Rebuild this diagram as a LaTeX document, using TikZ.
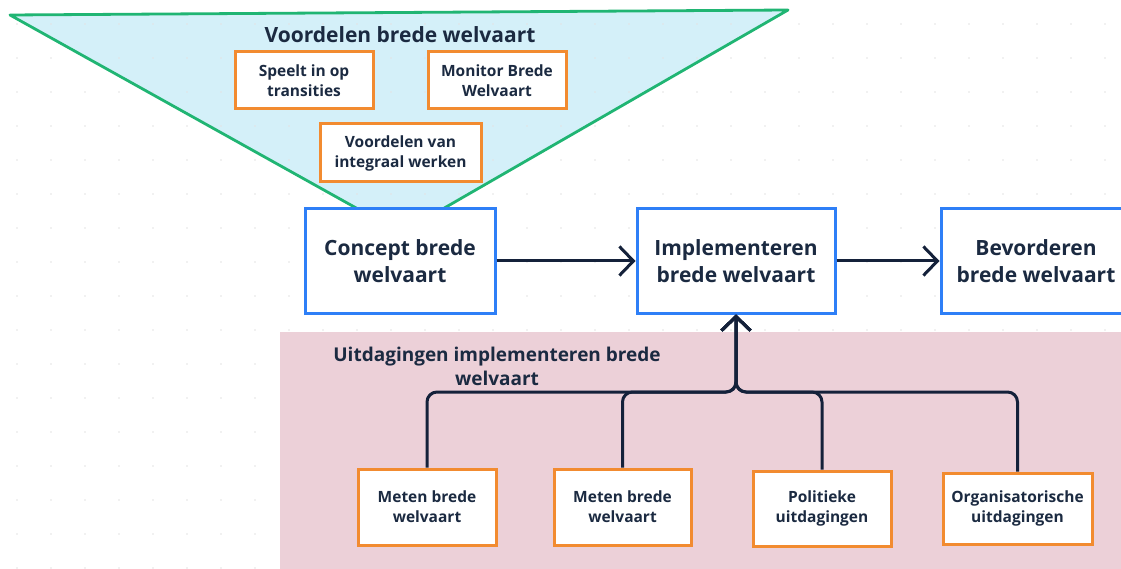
\documentclass[tikz,border=0pt]{standalone}
\usepackage{fontspec}
\setmainfont{Open Sans}
\usetikzlibrary{arrows.meta}
\definecolor{navy}{HTML}{1B2A41}
\definecolor{linecol}{HTML}{14213A}
\definecolor{bblue}{HTML}{2E7FF7}
\definecolor{borange}{HTML}{F28B30}
\definecolor{tgreen}{HTML}{20B573}
\definecolor{tfill}{HTML}{D4F0F9}
\definecolor{pinkbg}{HTML}{ECD0D8}
\tikzset{
  bigbox/.style={draw=bblue, line width=3pt, fill=white, minimum height=104pt,
    align=center, text=navy, inner sep=0pt,
    font=\bfseries\fontsize{21}{27}\selectfont},
  smallbox/.style={draw=borange, line width=3pt, fill=white,
    align=center, text=navy, inner sep=0pt,
    font=\bfseries\fontsize{15.5}{20}\selectfont},
  titletext/.style={text=navy, align=center, font=\bfseries\fontsize{19}{24}\selectfont},
  conn/.style={draw=linecol, line width=3pt,
    -{Straight Barb[length=14pt, width=29pt, line width=3pt]}},
  treeconn/.style={conn, rounded corners=10pt},
  griddot/.style={fill=gray!22}
}
\begin{document}
\begin{tikzpicture}[x=1pt, y=-1pt]
\useasboundingbox (0,0) rectangle (1121,569);
\fill[white] (0,0) rectangle (1121,569);

% triangle
\fill[tfill] (10,15) -- (788,10) -- (401,233) -- cycle;

% dot grid
\foreach \gx in {17,51,...,1121} {
  \foreach \gy in {24,58,...,569} {
    \fill[griddot] (\gx,\gy) circle (0.9pt);
  }
}

\draw[tgreen, line width=2.8pt, line join=round] (10,15) -- (788,10) -- (401,233) -- cycle;

% pink region
\fill[pinkbg] (280,332) rectangle (1125,572);

% top group
\node[titletext, font=\bfseries\fontsize{21}{24}\selectfont] (vtitle) at (400,35) {Voordelen brede welvaart};
\node[smallbox, minimum width=138pt, minimum height=57pt] (speelt) at (304,80.5) {Speelt in op\\transities};
\node[smallbox, minimum width=138pt, minimum height=57pt] (monitor) at (497,80.5) {Monitor Brede\\Welvaart};
\node[smallbox, minimum width=161pt, minimum height=58pt] (integraal) at (400.5,153) {Voordelen van\\integraal werken};

% main flow
\node[bigbox, minimum width=190pt] (concept) at (400,261) {Concept brede\\welvaart};
\node[bigbox, minimum width=198pt] (impl) at (736,261) {Implementeren\\brede welvaart};
\node[bigbox, minimum width=190pt] (bevord) at (1036,261) {Bevorderen\\brede welvaart};

\draw[conn] (concept.east) -- (impl.west);
\draw[conn] (impl.east) -- (bevord.west);

% challenges
\node[titletext] (utitle) at (497,366) {Uitdagingen implementeren brede\\welvaart};
\node[smallbox, minimum width=138pt, minimum height=76pt] (m1) at (427,507) {Meten brede\\welvaart};
\node[smallbox, minimum width=137pt, minimum height=76pt] (m2) at (622.5,507) {Meten brede\\welvaart};
\node[smallbox, minimum width=138pt, minimum height=75pt] (pol) at (822,508.5) {Politieke\\uitdagingen};
\node[smallbox, minimum width=149pt, minimum height=71pt] (org) at (1017.5,508.5) {Organisatorische\\uitdagingen};

\coordinate (junc) at (736,392);
\draw[treeconn] (m1.north) |- (junc) -- (impl.south);
\draw[treeconn] (m2.north) |- (junc) -- (impl.south);
\draw[treeconn] (pol.north) |- (junc) -- (impl.south);
\draw[treeconn] (org.north) |- (junc) -- (impl.south);
\end{tikzpicture}
\end{document}
